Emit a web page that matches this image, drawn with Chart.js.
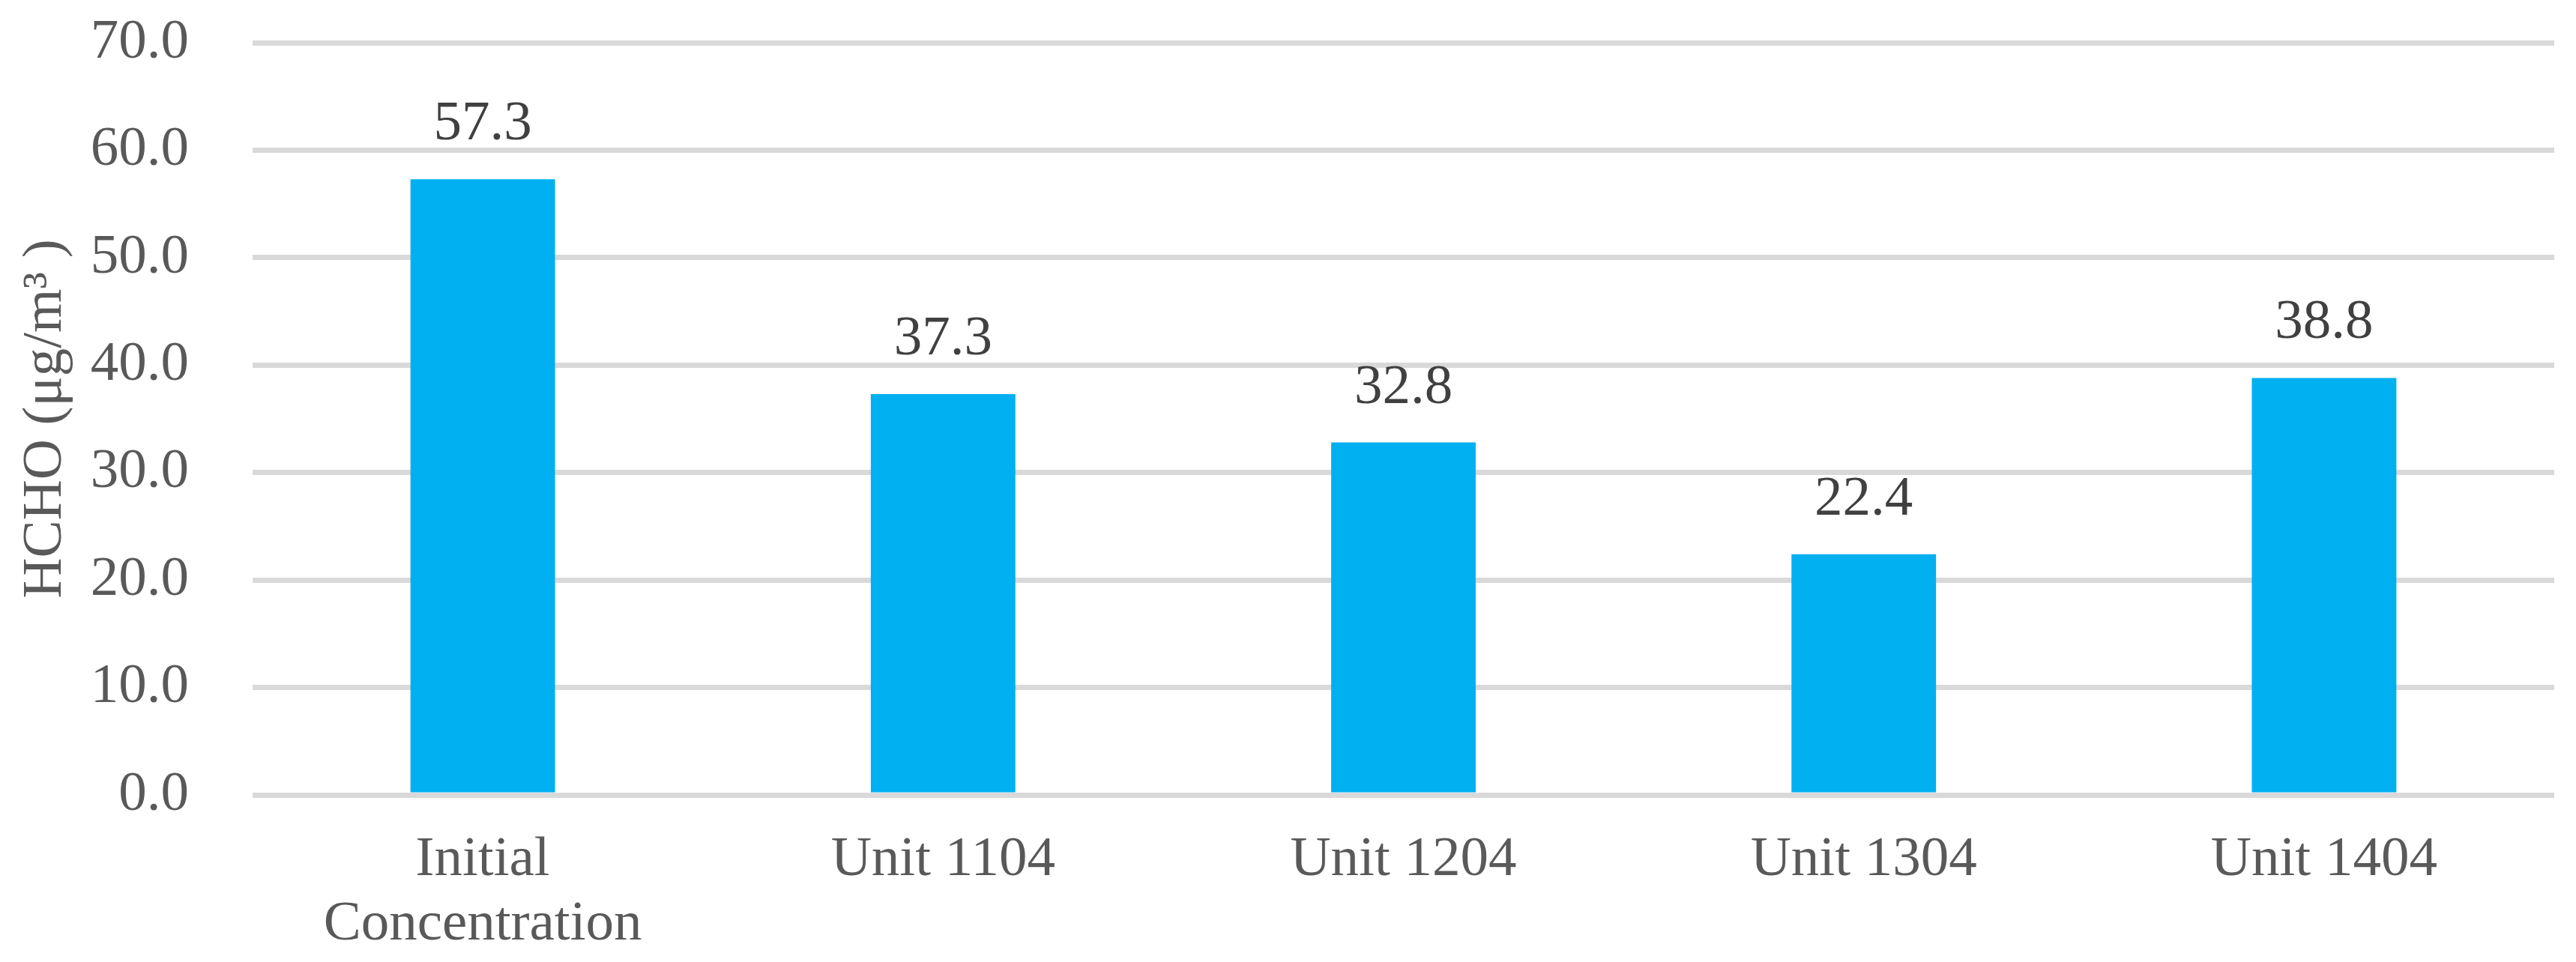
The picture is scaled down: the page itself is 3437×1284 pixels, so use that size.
<!DOCTYPE html>
<html>
<head>
<meta charset="utf-8">
<title>HCHO concentration</title>
<script src="https://cdn.jsdelivr.net/npm/chart.js@4.4.1/dist/chart.umd.min.js"></script>
<style>
    html, body { margin: 0; padding: 0; background: #ffffff; }
    #wrap { width: 3437px; height: 1284px; position: relative; }
</style>
</head>
<body>
<div id="wrap"><canvas id="hcho-chart"></canvas></div>
<script>
// Categorias e valores
const categories = [['Initial', 'Concentration'], 'Unit 1104', 'Unit 1204', 'Unit 1304', 'Unit 1404'];
const hchoValues = [57.3, 37.3, 32.8, 22.4, 38.8];
const yTicks = [0, 10, 20, 30, 40, 50, 60, 70];
const yTitle = 'HCHO (\u03BCg/m\u00B3 )';

const FONT = '"Liberation Serif", "Times New Roman", serif';

// Rótulos de valor acima das barras
const valueLabels = {
    id: 'valueLabels',
    afterDatasetsDraw(chart) {
        const ctx = chart.ctx;
        const meta = chart.getDatasetMeta(0);
        ctx.save();
        ctx.font = '75px ' + FONT;
        ctx.fillStyle = '#404040';
        ctx.textAlign = 'center';
        ctx.textBaseline = 'alphabetic';
        meta.data.forEach((bar, i) => {
            ctx.fillText(hchoValues[i].toFixed(1), bar.x, bar.y - 53);
        });
        ctx.restore();
    }
};

// Título do eixo y (girado), centrado na área do gráfico
const axisTitle = {
    id: 'axisTitle',
    afterDraw(chart) {
        const ctx = chart.ctx;
        const area = chart.chartArea;
        ctx.save();
        ctx.translate(81, (area.top + area.bottom) / 2);
        ctx.rotate(-Math.PI / 2);
        ctx.font = '75px ' + FONT;
        ctx.fillStyle = '#595959';
        ctx.textAlign = 'center';
        ctx.textBaseline = 'alphabetic';
        ctx.fillText(yTitle, 0, 0);
        ctx.restore();
    }
};

new Chart(document.getElementById('hcho-chart'), {
    type: 'bar',
    data: {
        labels: categories,
        datasets: [{
            data: hchoValues,
            backgroundColor: '#00B0F0',
            borderWidth: 0,
            barPercentage: 0.314,
            categoryPercentage: 1
        }]
    },
    options: {
        responsive: true,
        maintainAspectRatio: false,
        animation: false,
        layout: {
            padding: { top: 57, right: 29, bottom: 0, left: 0 }
        },
        plugins: {
            legend: { display: false },
            tooltip: { enabled: false }
        },
        scales: {
            x: {
                grid: { display: false, drawTicks: false },
                border: { display: false },
                ticks: {
                    color: '#595959',
                    font: { family: FONT, size: 75, lineHeight: 1.15 },
                    padding: 44,
                    maxRotation: 0,
                    autoSkip: false
                },
                afterFit(scale) { scale.height = 223; }
            },
            y: {
                min: yTicks[0],
                max: yTicks[yTicks.length - 1],
                grid: { color: '#d9d9d9', lineWidth: 7, drawTicks: false },
                border: { display: false },
                afterBuildTicks(scale) {
                    scale.ticks = yTicks.map(v => ({ value: v }));
                },
                ticks: {
                    color: '#595959',
                    font: { family: FONT, size: 75 },
                    padding: 85,
                    callback: v => Number(v).toFixed(1)
                },
                afterFit(scale) {
                    scale.width = 337;
                    // o padding dos rótulos não deve empurrar a área do gráfico
                    scale.paddingTop = 0;
                    scale.paddingBottom = 0;
                }
            }
        }
    },
    plugins: [valueLabels, axisTitle]
});
</script>
</body>
</html>
